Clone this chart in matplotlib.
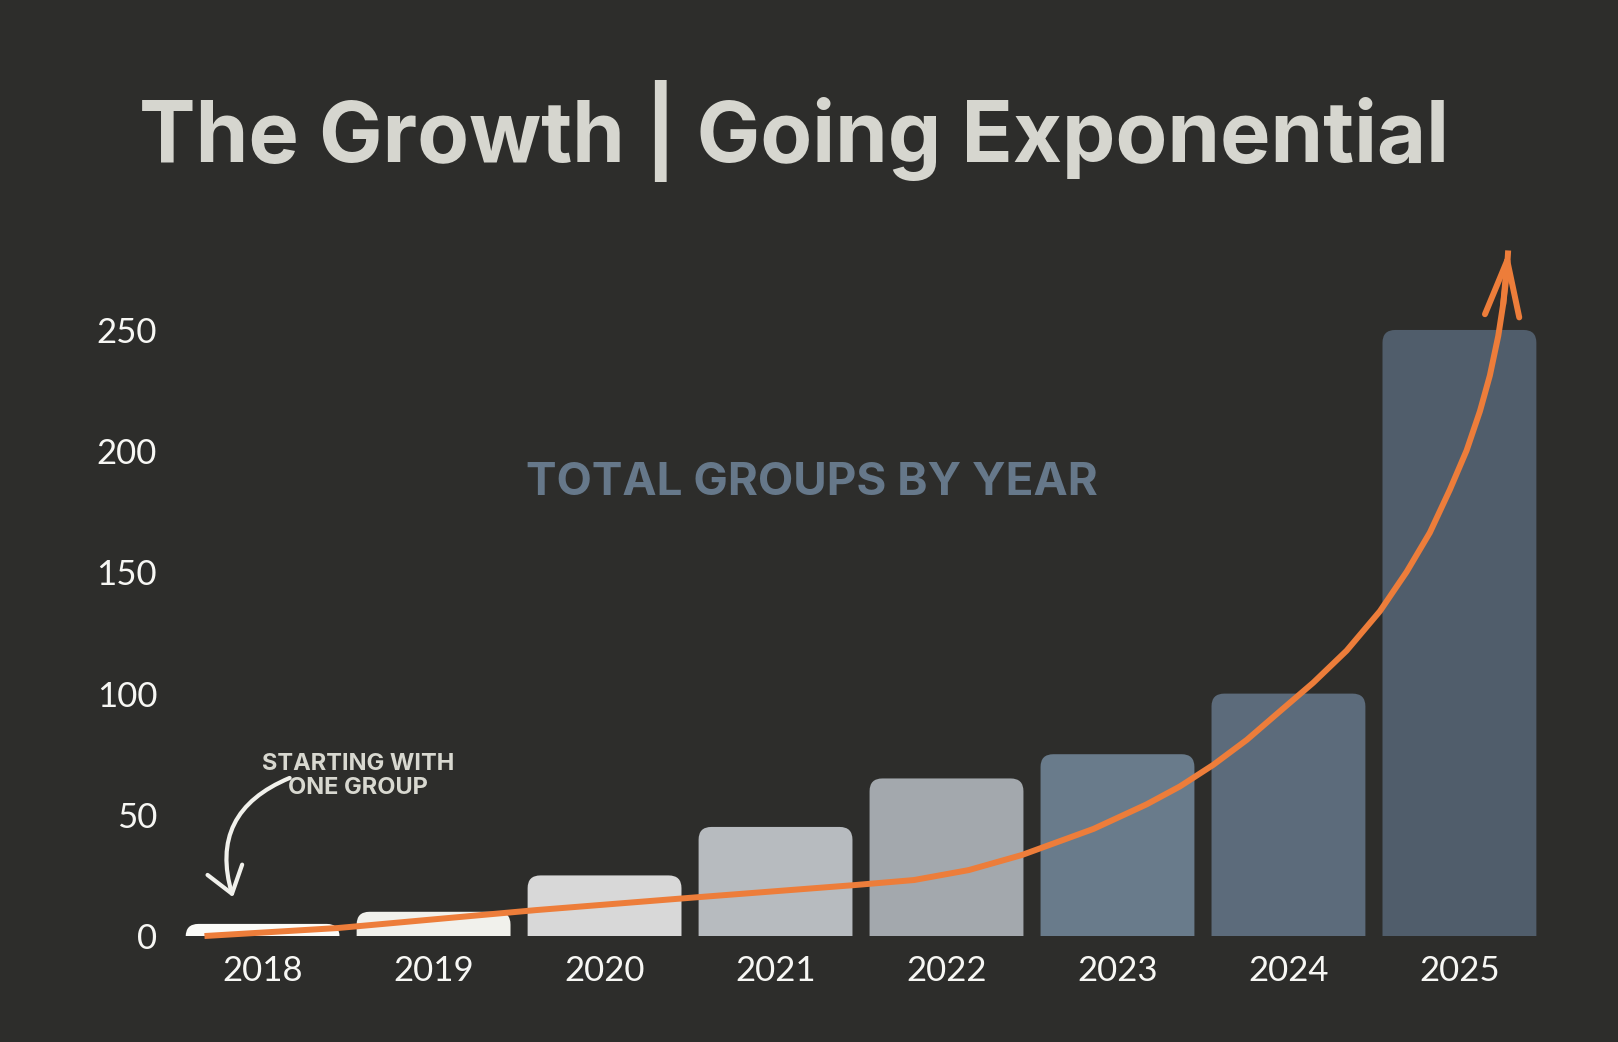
import matplotlib
matplotlib.use('Agg')
import matplotlib.pyplot as plt
from matplotlib.patches import FancyBboxPatch, FancyArrowPatch

# data
years = ['2018', '2019', '2020', '2021', '2022', '2023', '2024', '2025']
groups = [5, 10, 25, 45, 65, 75, 100, 250]
bar_colors = ['#fbfbf8', '#f1f1ec', '#d8d8d8', '#b7bbbf',
              '#a3a8ad', '#697b8b', '#5c6b7b', '#505d6b']
yticks = [0, 50, 100, 150, 200, 250]

# hand-drawn trend arrow
trend_x = [-0.34, 0.44, 1.60, 2.56, 3.46, 3.81, 4.13, 4.44, 4.86, 5.17, 5.365,
           5.56, 5.756, 5.95, 6.145, 6.34, 6.535, 6.691, 6.827, 6.944, 7.042,
           7.12, 7.178, 7.227, 7.256, 7.276, 7.285]
trend_y = [0, 3.3, 10.7, 16.1, 21.0, 23.1, 27.2, 33.4, 44.2, 54.3, 61.7,
           70.6, 80.9, 92.7, 104.5, 117.7, 134.0, 150.2, 166.4, 184.1, 200.3,
           216.5, 231.2, 247.5, 260.7, 272.5, 282.8]

bg = '#2d2d2b'
orange = '#ed7d3a'
light = '#f7f7f4'

fig = plt.figure(figsize=(16.18, 10.42), dpi=100, facecolor=bg)
ax = fig.add_axes([0.0989, 0.1017, 0.8665, 0.6747])
ax.set_facecolor(bg)

bars = ax.bar(range(len(years)), groups, width=0.9, color=bar_colors)
# swap the plain rectangles for ones with rounded tops
for b in bars:
    x, w, h = b.get_x(), b.get_width(), b.get_height()
    b.set_visible(False)
    ax.add_patch(FancyBboxPatch((x, -8), w, h + 8,
                                boxstyle='round,pad=0,rounding_size=0.075',
                                mutation_aspect=70, fc=b.get_facecolor(),
                                ec='none', zorder=2))

ax.plot(trend_x, trend_y, color=orange, lw=4.3, zorder=4, clip_on=False,
        solid_capstyle='butt', solid_joinstyle='round')
ax.annotate('', xy=(trend_x[-1], trend_y[-1]), xytext=(trend_x[-3], trend_y[-3]),
            arrowprops=dict(arrowstyle='->,head_length=2.0,head_width=0.62',
                            color=orange, lw=4.3, shrinkA=0, shrinkB=0,
                            mutation_scale=20),
            annotation_clip=False, zorder=5)

ax.set_xlim(-0.6, 7.6)
ax.set_ylim(0, 290)
ax.set_xticks(range(len(years)))
ax.set_xticklabels(years)
ax.set_yticks(yticks)
for s in ax.spines.values():
    s.set_visible(False)
ax.tick_params(axis='both', length=0, labelcolor=light)
ax.tick_params(axis='x', pad=14)
ax.tick_params(axis='y', pad=2)
for lab in ax.get_xticklabels() + ax.get_yticklabels():
    lab.set_family(['Lato', 'DejaVu Sans'])
    lab.set_fontweight('normal')
    lab.set_fontsize(25)

fig.text(0.491, 0.8445, 'The Growth | Going Exponential', ha='center', va='baseline',
         fontsize=61, fontweight='bold', color='#d6d6cf', family=['Inter', 'DejaVu Sans'])
fig.text(0.502, 0.525, 'TOTAL GROUPS BY YEAR', ha='center', va='baseline',
         fontsize=33, fontweight='bold', color='#66788a', family=['Inter', 'DejaVu Sans'])

# little note with curved arrow
fig.text(0.2215, 0.2555, 'STARTING WITH\nONE GROUP', ha='center', va='center',
         fontsize=17, fontweight='bold', color='#d8d8d0', linespacing=1.1,
         family=['Inter', 'DejaVu Sans'])
fig.patches.append(FancyArrowPatch(
    (0.179, 0.2534), (0.144, 0.139), transform=fig.transFigure,
    connectionstyle='arc3,rad=0.45',
    arrowstyle='->,head_length=0.9,head_width=0.65', mutation_scale=20,
    color='#f1f1ec', lw=3, shrinkA=0, shrinkB=0))

fig.savefig('out.png', dpi=100, facecolor=bg)
